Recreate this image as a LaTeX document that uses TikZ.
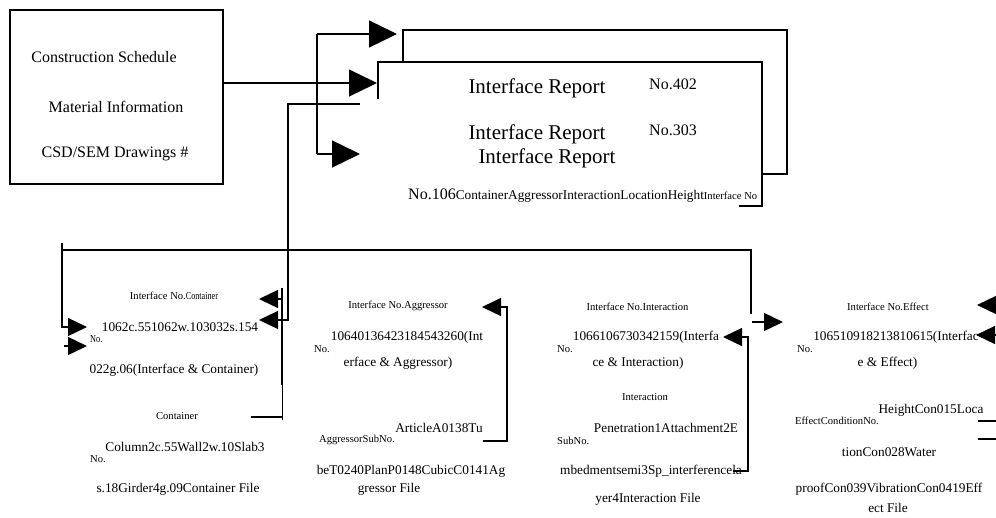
\documentclass[tikz,border=0pt]{standalone}
\usepackage{fontspec}
\setmainfont{Liberation Serif}
\usepackage{graphicx}
\usetikzlibrary{arrows.meta,positioning}

\tikzset{
  rptfont/.style={inner sep=0pt,font=\fontsize{21}{24}\selectfont},
  midfont/.style={inner sep=0pt,font=\fontsize{16}{19}\selectfont},
  datfont/.style={inner sep=0pt,font=\fontsize{13.3}{16}\selectfont},
  smlfont/.style={inner sep=0pt,font=\fontsize{10.6}{12}\selectfont},
  wire/.style={line width=1.3pt},
  sarrow/.style={wire,-{Triangle[length=19pt,width=18pt]}},
  bigarrow/.style={wire,-{Triangle[length=28pt,width=27pt]}}
}

\begin{document}
\begin{tikzpicture}[x=1pt,y=-1pt]
  \useasboundingbox (0,0) rectangle (996,517);
  %The source box with its three inputs.
  \node[draw,line width=2pt,minimum width=213pt,minimum height=174pt,inner sep=0pt] (src) at (116.5,97) {};
  \node[midfont] (cs)  at (104,57)  {Construction Schedule};
  \node[midfont] (mi)  at (116,107) {Material Information};
  \node[midfont] (csd) at (115,154) {CSD/SEM Drawings \#};

  %The two stacked report sheets.
  \draw[wire] (403,61) |- (787,30) |- (763,174); %back sheet
  \draw[wire] (378,99) |- (762,62) |- (739,206); %front sheet
  \node[rptfont] (rp1) at (537,88)  {Interface Report};
  \node[rptfont] (rp2) at (537,134) {Interface Report};
  \node[rptfont] (rp3) at (547,158) {Interface Report};
  \node[midfont] (n402) at (673,84)  {No.402};
  \node[midfont] (n303) at (673,130) {No.303};
  \node[anchor=base west,inner sep=0pt] (rpl) at (408,199)
    {\fontsize{16}{19}\selectfont No.106\fontsize{13.3}{16}\selectfont ContainerAggressorInteractionLocationHeight\fontsize{10.6}{12}\selectfont Interface No};

  %Fork from the source box to the sheets.
  \coordinate (ft) at (317,34);  %top of fork
  \coordinate (fb) at (317,154); %bottom of fork
  \coordinate (t1) at (397,34);
  \coordinate (t2) at (377,83);
  \coordinate (t3) at (360,154);
  \draw[wire] (ft) -- (fb);
  \draw[bigarrow] (ft) -- (t1);
  \draw[bigarrow] (src.east |- t2) -- (t2);
  \draw[bigarrow] (fb) -- (t3);

  %Container block
  \node[smlfont] (c1) at (174,296) {Interface No.\scalebox{0.77}[1]{Container}};
  \node[datfont] (c2) at (180,327) {1062c.551062w.103032s.154};
  \node[smlfont,anchor=west] (c3) at (90,339) {\scalebox{0.78}[1]{No.}};
  \node[datfont] (c4) at (174,370) {022g.06(Interface \& Container)};
  \node[smlfont] (c5) at (177,416) {Container};
  \node[datfont] (c6) at (185,447) {Column2c.55Wall2w.10Slab3};
  \node[smlfont,anchor=west] (c7) at (90,459) {No.};
  \node[datfont] (c8) at (178,489) {s.18Girder4g.09Container File};

  %Aggressor block
  \node[smlfont] (a1) at (398,306) {Interface No.Aggressor};
  \node[datfont] (a2) at (407,337) {10640136423184543260(Int};
  \node[smlfont,anchor=west] (a3) at (314,349) {No.};
  \node[datfont] (a4) at (398,363) {erface \& Aggressor)};
  \node[datfont] (a5) at (439,428) {ArticleA0138Tu};
  \node[smlfont] (a6) at (357,440) {AggressorSubNo.};
  \node[datfont] (a7) at (411,471) {beT0240PlanP0148CubicC0141Ag};
  \node[datfont] (a8) at (389,489) {gressor File};

  %Interaction block
  \node[smlfont] (i1) at (637.5,307) {Interface No.Interaction};
  \node[datfont] (i2) at (646,337) {1066106730342159(Interfa};
  \node[smlfont,anchor=west] (i3) at (557,349) {No.};
  \node[datfont] (i4) at (638,363) {ce \& Interaction)};
  \node[smlfont] (i5) at (645,397) {Interaction};
  \node[datfont] (i6) at (666,428) {Penetration1Attachment2E};
  \node[smlfont,anchor=west] (i7) at (557,441) {SubNo.};
  \node[datfont] (i8) at (651,471) {mbedmentsemi3Sp\_interferencela};
  \node[datfont] (i9) at (648,499) {yer4Interaction File};

  %Effect block
  \node[smlfont] (e1) at (888,307) {Interface No.Effect};
  \node[datfont] (e2) at (896,337) {106510918213810615(Interfac};
  \node[smlfont,anchor=west] (e3) at (797,349) {No.};
  \node[datfont] (e4) at (887.5,363) {e \& Effect)};
  \node[datfont] (e5) at (931,410) {HeightCon015Loca};
  \node[smlfont] (e6) at (837,421) {EffectConditionNo.};
  \node[datfont] (e7) at (889,452) {tionCon028Water};
  \node[datfont] (e8) at (889,489) {proofCon039VibrationCon0419Eff};
  \node[datfont] (e9) at (888,508) {ect File};

  %Line from the sheets down to the container block.
  \coordinate (m0) at (360,104);
  \coordinate (mk) at (288,320);
  \coordinate (ca2) at (259,320);
  \draw[sarrow] (m0) -| (mk) -- (ca2);
  \coordinate (cb) at (282,299);
  \coordinate (ca1) at (259,299);
  \draw[sarrow] (cb) -- (ca1);
  \coordinate (ct) at (282,288);
  \coordinate (cm) at (282,385);
  \coordinate (cl) at (282,420);
  \draw[line width=1pt] (ct) -- (cl);
  \draw[line width=2pt] (ct) -- (cm);
  \coordinate (cf) at (251,417);
  \draw[wire] (cf) -- (cf -| cl);

  %Bus line across the lower blocks.
  \coordinate (bl) at (62,243);
  \coordinate (bb) at (62,328);
  \coordinate (bc) at (62,250);
  \coordinate (br) at (751,314);
  \draw[wire] (bl) -- (bb);
  \draw[wire] (bc) -| (br);
  \coordinate (l1) at (63,327);
  \coordinate (l2) at (64,346);
  \draw[sarrow] (l1) -- (l1 -| 87,0);
  \draw[sarrow] (l2) -- (l2 -| 87,0);
  \coordinate (r1) at (752,322);
  \coordinate (r1e) at (783,322);
  \draw[sarrow] (r1) -- (r1e);

  %Feedback loops of the aggressor and interaction blocks.
  \coordinate (ag0) at (483,441);
  \coordinate (ag1) at (507,307);
  \coordinate (ag2) at (482,307);
  \draw[sarrow] (ag0) -| (ag1) -- (ag2);
  \coordinate (in0) at (733,471);
  \coordinate (in1) at (748,337);
  \coordinate (in2) at (723,337);
  \draw[sarrow] (in0) -| (in1) -- (in2);

  %Stubs at the right edge.
  \coordinate (ex1) at (1010,305);
  \coordinate (ex2) at (1010,335);
  \draw[sarrow] (ex1) -- (977,305);
  \draw[sarrow] (ex2) -- (976,335);
  \coordinate (ey1) at (978,421);
  \coordinate (ey2) at (978,439);
  \draw[wire] (ey1) -- (ey1 -| 996,0);
  \draw[wire] (ey2) -- (ey2 -| 996,0);
\end{tikzpicture}
\end{document}
